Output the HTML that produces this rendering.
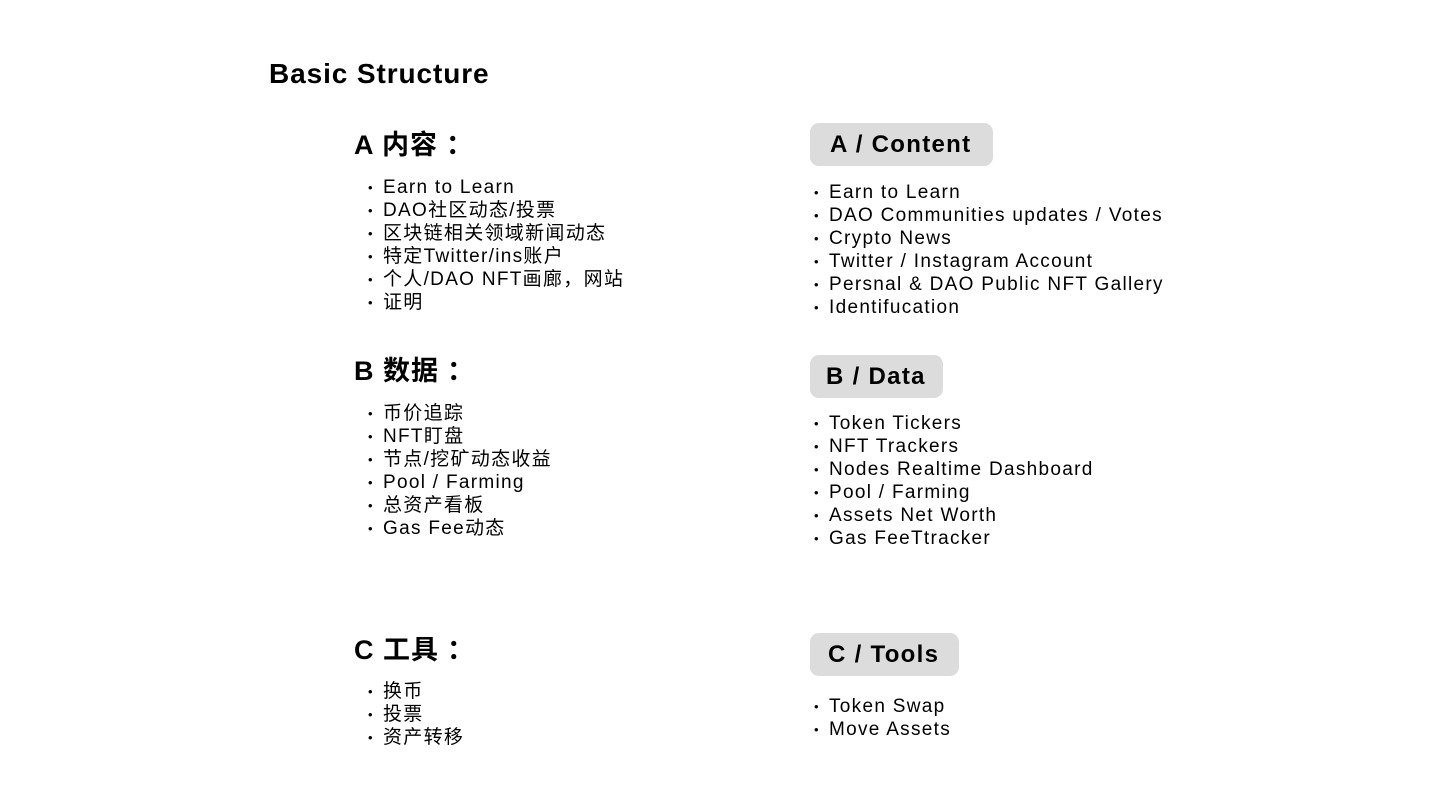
<!DOCTYPE html>
<html><head><meta charset="utf-8"><style>
body{margin:0;width:1447px;height:805px;background:#fff;position:relative;overflow:hidden;font-family:"Liberation Sans","Noto Sans CJK SC",sans-serif;color:#000}
.t{position:absolute;font-weight:bold;white-space:nowrap}
.h{position:absolute;font-weight:bold;font-size:27px;line-height:32px;white-space:nowrap;letter-spacing:1px}
.h span{margin-left:8px}
.p{position:absolute;background:#dcdcdc;border-radius:9px;height:43px;font-weight:bold;font-size:24px;line-height:43px;box-sizing:border-box;padding-left:20px;white-space:nowrap;letter-spacing:1.3px}
ul{position:absolute;margin:0;padding:0;list-style:none;font-size:19px;line-height:23px;letter-spacing:1.3px}
li{position:relative;padding-left:15px;white-space:nowrap}
li:before{content:"•";position:absolute;left:0;font-size:13px;top:0}
</style></head><body>
<div class="t" style="left:269px;top:57px;font-size:28px;line-height:34px;letter-spacing:0.9px">Basic Structure</div>

<div class="h" style="left:354px;top:129px">A 内容<span>：</span></div>
<ul style="left:368px;top:176px">
<li>Earn to Learn</li><li>DAO社区动态/投票</li><li>区块链相关领域新闻动态</li><li>特定Twitter/ins账户</li><li>个人/DAO NFT画廊，网站</li><li>证明</li></ul>

<div class="h" style="left:354px;top:355px">B 数据<span>：</span></div>
<ul style="left:368px;top:402px">
<li>币价追踪</li><li>NFT盯盘</li><li>节点/挖矿动态收益</li><li>Pool / Farming</li><li>总资产看板</li><li>Gas Fee动态</li></ul>

<div class="h" style="left:354px;top:634px">C 工具<span>：</span></div>
<ul style="left:368px;top:680px">
<li>换币</li><li>投票</li><li>资产转移</li></ul>

<div class="p" style="left:810px;top:123px;width:183px">A / Content</div>
<ul style="left:814px;top:181px">
<li>Earn to Learn</li><li>DAO Communities updates / Votes</li><li>Crypto News</li><li>Twitter / Instagram Account</li><li>Persnal &amp; DAO Public NFT Gallery</li><li>Identifucation</li></ul>

<div class="p" style="left:810px;top:355px;width:133px;padding-left:16px">B / Data</div>
<ul style="left:814px;top:412px">
<li>Token Tickers</li><li>NFT Trackers</li><li>Nodes Realtime Dashboard</li><li>Pool / Farming</li><li>Assets Net Worth</li><li>Gas FeeTtracker</li></ul>

<div class="p" style="left:810px;top:633px;width:149px;padding-left:18px">C / Tools</div>
<ul style="left:814px;top:695px">
<li>Token Swap</li><li>Move Assets</li></ul>
</body></html>
